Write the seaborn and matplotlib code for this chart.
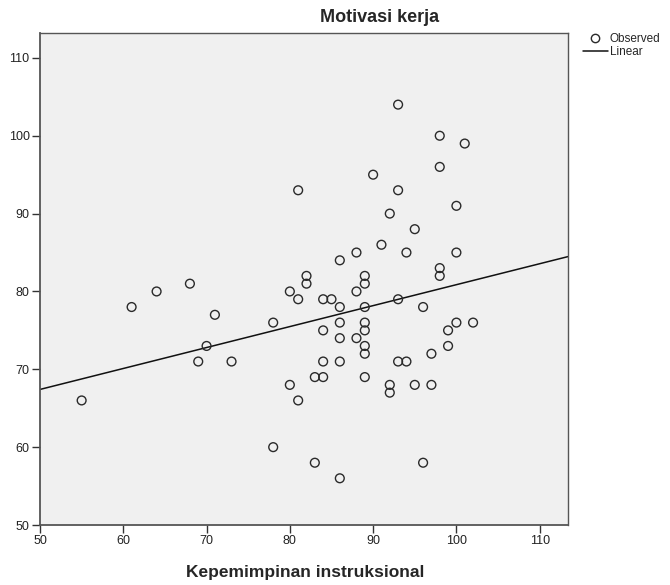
import matplotlib
matplotlib.use("Agg")
import matplotlib.pyplot as plt
from matplotlib.lines import Line2D
import seaborn as sns
import pandas as pd

# Kepemimpinan instruksional (x) and Motivasi kerja (y) scores per respondent
kepemimpinan = [55, 61, 64, 68, 69, 70, 71, 73,
                78, 78, 80, 80, 81, 81, 81, 82, 82, 83, 83,
                84, 84, 84, 84, 85,
                86, 86, 86, 86, 86, 86, 88, 88, 88,
                89, 89, 89, 89, 89, 89, 89, 89,
                90, 91, 92, 92, 92, 93, 93, 93, 93, 94, 94,
                95, 95, 96, 96, 97, 97, 98, 98, 98, 98,
                99, 99, 100, 100, 100, 101, 102]
motivasi = [66, 78, 80, 81, 71, 73, 77, 71,
            76, 60, 80, 68, 79, 66, 93, 82, 81, 69, 58,
            79, 75, 71, 69, 79,
            84, 78, 76, 74, 71, 56, 85, 80, 74,
            82, 81, 78, 76, 75, 73, 72, 69,
            95, 86, 90, 68, 67, 104, 93, 79, 71, 85, 71,
            88, 68, 78, 58, 72, 68, 100, 96, 83, 82,
            75, 73, 91, 85, 76, 99, 76]

x_ticks = [50, 60, 70, 80, 90, 100, 110]
y_ticks = [50, 60, 70, 80, 90, 100, 110]

df = pd.DataFrame({"Kepemimpinan instruksional": kepemimpinan,
                   "Motivasi kerja": motivasi})

sns.set_style("white")
plt.rcParams["font.family"] = ["Liberation Sans", "DejaVu Sans"]

fig = plt.figure(figsize=(6.7, 5.85), dpi=100)
ax = fig.add_axes([40 / 670, 1 - 525 / 585, 528 / 670, 492 / 585])
ax.set_facecolor("#f0f0f0")

ax.set_xlim(50, 113.4)
ax.set_ylim(50, 113.2)

sns.scatterplot(data=df, x="Kepemimpinan instruksional", y="Motivasi kerja",
                ax=ax, marker="o", s=40, facecolors="none",
                edgecolor="#2a2a2a", linewidth=1.0, zorder=3, legend=False)
sns.regplot(data=df, x="Kepemimpinan instruksional", y="Motivasi kerja",
            ax=ax, scatter=False, ci=None, truncate=False,
            line_kws=dict(color="#111111", lw=1.1, zorder=2))

ax.set_xlim(50, 113.4)
ax.set_ylim(50, 113.2)
ax.set_xticks(x_ticks)
ax.set_yticks(y_ticks)
ax.tick_params(axis="both", direction="out", length=6, width=1.0,
               color="#333333", labelsize=9, labelcolor="#222222", pad=1.5,
               bottom=True, left=True)
for side, sp in ax.spines.items():
    sp.set_visible(True)
    sp.set_color("#555555")
    sp.set_linewidth(1.3 if side in ("left", "bottom") else 1.0)

ax.set_xlabel("")
ax.set_ylabel("")
fig.text(305 / 670, 1 - 572 / 585, "Kepemimpinan instruksional",
         ha="center", va="center", fontsize=12.5, fontweight="bold")
fig.text(380 / 670, 1 - 18 / 585, "Motivasi kerja",
         ha="center", va="center", fontsize=13, fontweight="bold")

handles = [Line2D([], [], marker="o", ls="none", markersize=6,
                  markerfacecolor="none", markeredgecolor="#2a2a2a",
                  markeredgewidth=1.0),
           Line2D([], [], color="#111111", lw=1.1)]
fig.legend(handles, ["Observed", "Linear"], loc="upper left",
           bbox_to_anchor=(578 / 670, 1 - 28 / 585), frameon=False,
           fontsize=8.5, handlelength=2.1, handletextpad=0.2,
           labelspacing=0.1, borderaxespad=0)

fig.savefig("out.png", dpi=100)
